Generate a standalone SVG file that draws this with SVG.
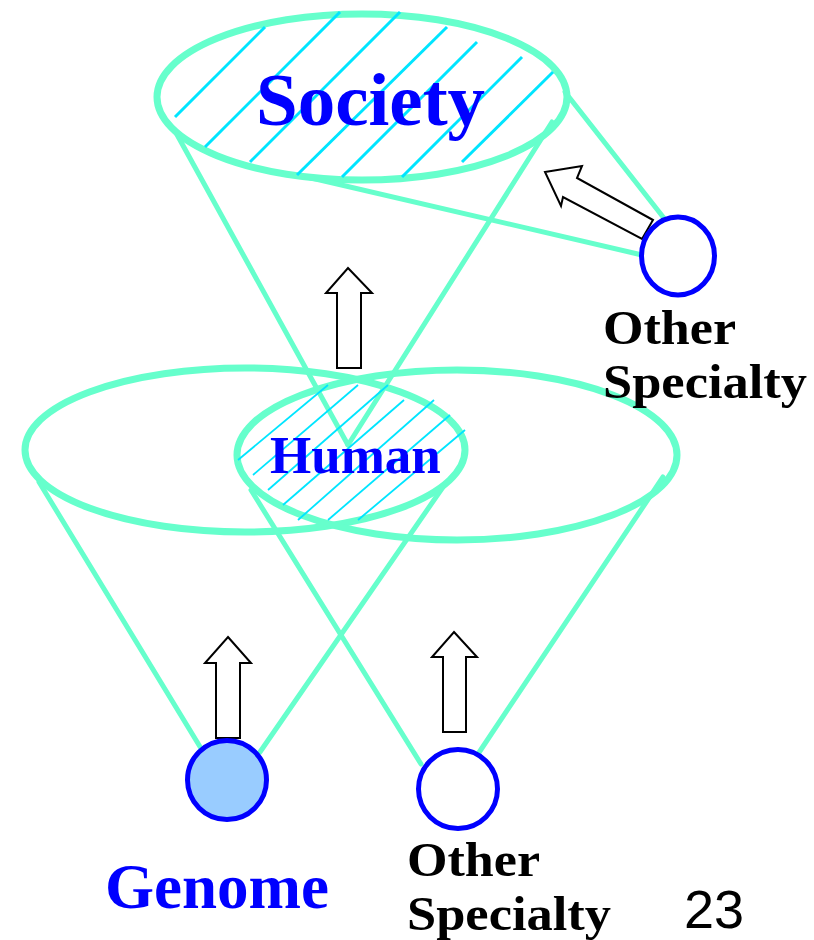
<svg xmlns="http://www.w3.org/2000/svg" width="814" height="940" viewBox="0 0 814 940">
<style>
.ring{fill:none;stroke:#66ffcc;stroke-width:7}
.cone{fill:none;stroke:#66ffcc;stroke-width:5;stroke-linecap:round}
.hatchS{stroke:#00e5ff;stroke-width:3}
.hatchH{stroke:#00e5ff;stroke-width:1.8}
.arrow{fill:#ffffff;stroke:#000000;stroke-width:2;stroke-linejoin:miter}
.node{stroke:#0000ff;stroke-width:5}
.lbl{font-family:"Liberation Serif","Times New Roman",serif;font-weight:bold}
</style>
<rect width="814" height="940" fill="#ffffff"/>
<g id="society">
<ellipse class="ring" cx="362" cy="97" rx="205" ry="83" stroke-width="8"/>
<g class="hatchS">
<line x1="175" y1="117" x2="265" y2="27"/>
<line x1="205" y1="147" x2="340" y2="12"/>
<line x1="250" y1="162" x2="400" y2="12"/>
<line x1="297" y1="175" x2="447" y2="27"/>
<line x1="342" y1="177" x2="477" y2="42"/>
<line x1="402" y1="177" x2="522" y2="57"/>
<line x1="462" y1="162" x2="553" y2="72"/>
</g>
<text class="lbl" x="256" y="125" font-size="75" fill="#0000ff">Society</text>
</g>
<g id="left-field">
<ellipse class="ring" cx="245" cy="450" rx="220" ry="82"/>
</g>
<g id="right-field">
<ellipse class="ring" cx="457" cy="455" rx="220" ry="85"/>
</g>
<g id="connectors">
<line class="cone" x1="175" y1="131" x2="348" y2="445"/>
<line class="cone" x1="552" y1="122" x2="348" y2="445"/>
<line class="cone" x1="307" y1="177" x2="642" y2="255"/>
<line class="cone" x1="565" y1="92" x2="667" y2="222"/>
<line class="cone" x1="39" y1="482" x2="202" y2="750"/>
<line class="cone" x1="443" y1="487" x2="260" y2="752"/>
<line class="cone" x1="251" y1="490" x2="421" y2="764"/>
<line class="cone" x1="663" y1="477" x2="476" y2="757"/>
<polygon class="arrow" points="348,268 372,293 361,293 361,368 337,368 337,293 326,293"/>
<polygon class="arrow" points="228,637 251,663 240,663 240,738 216,738 216,663 205,663"/>
<polygon class="arrow" points="454,632 477,657 466,657 466,732 443,732 443,657 432,657"/>
<polygon class="arrow" points="545,172 582,166 577,178 653,220 642,239 563,197 561,206"/>
</g>
<g id="human">
<g class="hatchH">
<line x1="238" y1="460" x2="328" y2="385"/>
<line x1="253" y1="475" x2="358" y2="385"/>
<line x1="268" y1="490" x2="388" y2="385"/>
<line x1="283" y1="505" x2="404" y2="400"/>
<line x1="298" y1="520" x2="434" y2="400"/>
<line x1="328" y1="520" x2="450" y2="415"/>
<line x1="358" y1="520" x2="465" y2="430"/>
</g>
<text class="lbl" x="270" y="473" font-size="53" fill="#0000ff">Human</text>
</g>
<g id="genome">
<circle class="node" cx="227" cy="780" r="39.5" fill="#99ccff"/>
<text class="lbl" x="105" y="908" font-size="63" fill="#0000ff">Genome</text>
</g>
<g id="other-specialty-bottom">
<circle class="node" cx="458" cy="789" r="39.5" fill="#ffffff"/>
<text class="lbl" font-size="48" fill="#000000"><tspan x="407" y="876" textLength="133" lengthAdjust="spacingAndGlyphs">Other</tspan><tspan x="407" y="930" textLength="204" lengthAdjust="spacingAndGlyphs">Specialty</tspan></text>
</g>
<g id="other-specialty-right">
<ellipse class="node" cx="678" cy="256" rx="36.5" ry="39" fill="#ffffff"/>
<text class="lbl" font-size="48" fill="#000000"><tspan x="603" y="344" textLength="133" lengthAdjust="spacingAndGlyphs">Other</tspan><tspan x="603" y="398" textLength="204" lengthAdjust="spacingAndGlyphs">Specialty</tspan></text>
</g>
<g id="page-number">
<text x="684" y="928" font-size="54" font-family="'Liberation Sans',Arial,sans-serif" fill="#000000">23</text>
</g>
</svg>
